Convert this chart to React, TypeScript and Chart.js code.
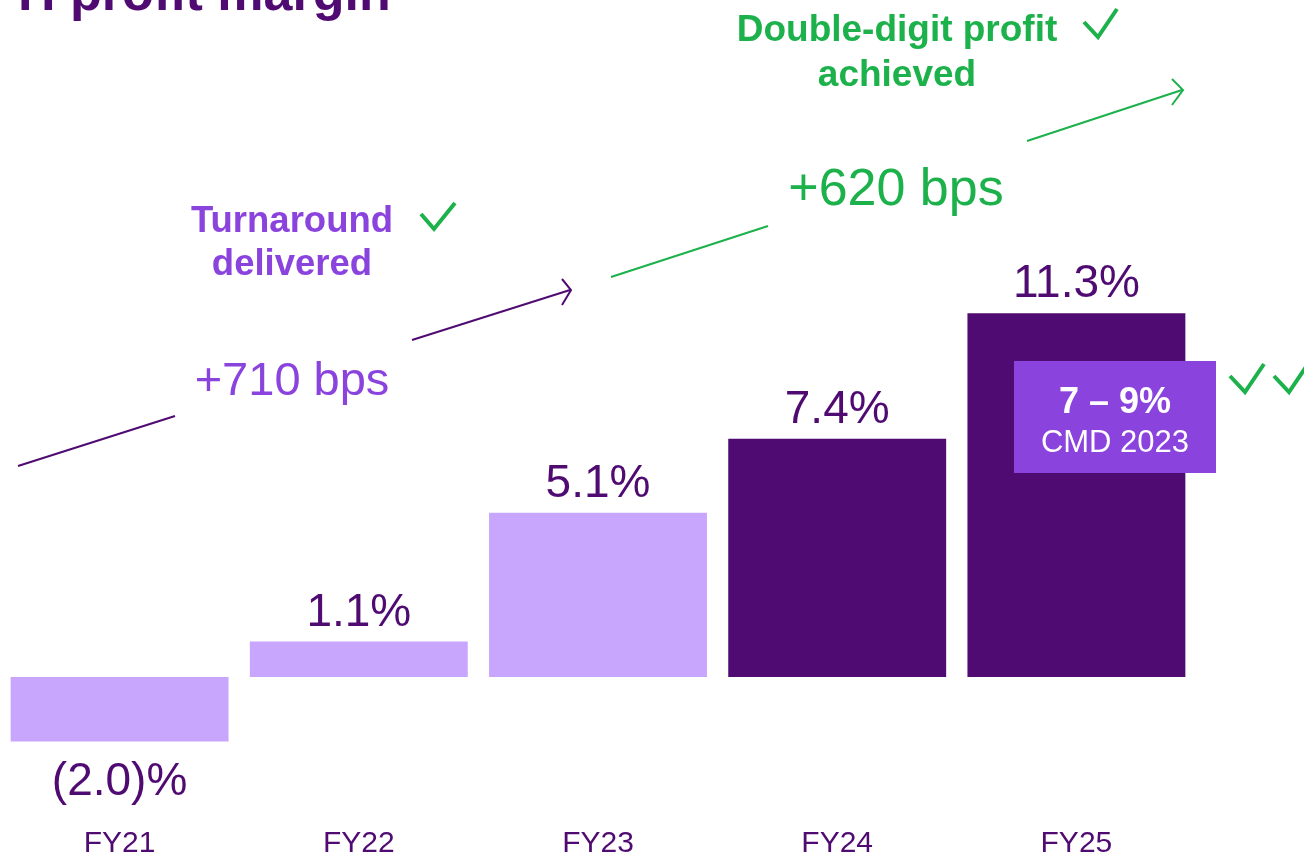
import React, { useEffect, useRef } from "react";
import { Chart, registerables } from "chart.js";

Chart.register(...registerables);

const categories = ["FY21", "FY22", "FY23", "FY24", "FY25"];
const margins = [-2.0, 1.1, 5.1, 7.4, 11.3];
const valueLabels = ["(2.0)%", "1.1%", "5.1%", "7.4%", "11.3%"];
const barShades = ["light", "light", "light", "dark", "dark"];

const DARK = "#4F0B71";
const LIGHT = "#C8A6FE";
const MID = "#8B43DE";
const GREEN = "#1DB14B";
const FONT = "'Liberation Sans', Arial, sans-serif";

function polyline(ctx: CanvasRenderingContext2D, pts: number[][], color: string, w: number) {
  ctx.save();
  ctx.strokeStyle = color;
  ctx.lineWidth = w;
  ctx.lineJoin = "miter";
  ctx.lineCap = "butt";
  ctx.beginPath();
  pts.forEach((p, i) => (i === 0 ? ctx.moveTo(p[0], p[1]) : ctx.lineTo(p[0], p[1])));
  ctx.stroke();
  ctx.restore();
}

function text(
  ctx: CanvasRenderingContext2D,
  s: string,
  x: number,
  y: number,
  font: string,
  color: string,
  align: CanvasTextAlign = "center"
) {
  ctx.save();
  ctx.font = font;
  ctx.fillStyle = color;
  ctx.textAlign = align;
  ctx.textBaseline = "alphabetic";
  ctx.fillText(s, x, y);
  ctx.restore();
}

const decorPlugin = {
  id: "decor",
  beforeDraw(chart: any) {
    const ctx = chart.ctx;
    ctx.save();
    ctx.fillStyle = "#ffffff";
    ctx.fillRect(0, 0, chart.width, chart.height);
    ctx.restore();
  },
  afterDatasetsDraw(chart: any) {
    const ctx = chart.ctx;
    const meta = chart.getDatasetMeta(0);
    const xScale = chart.scales.x;
    meta.data.forEach((bar: any, i: number) => {
      const v = margins[i];
      const y = v >= 0 ? bar.y - 16 : bar.y + 54;
      text(ctx, valueLabels[i], bar.x, y, `46px ${FONT}`, DARK);
      text(ctx, categories[i], xScale.getPixelForValue(i), 852, `30px ${FONT}`, DARK);
    });

    // title (cut off at top)
    text(ctx, "H profit margin", 18, 10, `bold 52px ${FONT}`, DARK, "left");

    // purple arrow
    polyline(ctx, [[18, 466], [175, 416]], DARK, 2);
    polyline(ctx, [[412, 340], [570, 290]], DARK, 2);
    polyline(ctx, [[562, 279], [571, 290], [562, 305]], DARK, 2);
    text(ctx, "+710 bps", 292, 395, `47px ${FONT}`, MID);
    text(ctx, "Turnaround", 292, 232, `bold 36.5px ${FONT}`, MID);
    text(ctx, "delivered", 292, 275, `bold 36.5px ${FONT}`, MID);
    polyline(ctx, [[421, 214], [434, 229], [455, 203]], GREEN, 4);

    // green arrow
    polyline(ctx, [[611, 277], [768, 226]], GREEN, 2);
    polyline(ctx, [[1027, 141], [1182, 90]], GREEN, 2);
    polyline(ctx, [[1172, 79], [1183, 90], [1172, 105]], GREEN, 2);
    text(ctx, "+620 bps", 896, 205, `52px ${FONT}`, GREEN);
    text(ctx, "Double-digit profit", 897, 41, `bold 37px ${FONT}`, GREEN);
    text(ctx, "achieved", 897, 86, `bold 37px ${FONT}`, GREEN);
    polyline(ctx, [[1084, 22], [1098, 37], [1117, 9]], GREEN, 4);

    // CMD box
    ctx.save();
    ctx.fillStyle = MID;
    ctx.fillRect(1014, 361, 202, 112);
    ctx.restore();
    text(ctx, "7 \u2013 9%", 1115, 413, `bold 36px ${FONT}`, "#ffffff");
    text(ctx, "CMD 2023", 1115, 452, `31px ${FONT}`, "#ffffff");
    polyline(ctx, [[1230, 376], [1245, 392], [1264, 364]], GREEN, 4);
    polyline(ctx, [[1274, 376], [1289, 392], [1308, 364]], GREEN, 4);
  },
};

export default function App() {
  const ref = useRef<HTMLCanvasElement>(null);
  useEffect(() => {
    if (!ref.current) return;
    const chart = new Chart(ref.current, {
      type: "bar",
      data: {
        labels: categories,
        datasets: [
          {
            data: margins,
            backgroundColor: barShades.map((s) => (s === "dark" ? DARK : LIGHT)),
            borderWidth: 0,
            categoryPercentage: 1,
            barPercentage: 0.911,
          },
        ],
      },
      options: {
        responsive: false,
        animation: false,
        events: [],
        layout: { padding: { left: 0, right: 108, top: 33, bottom: 50.2 } },
        plugins: { legend: { display: false }, tooltip: { enabled: false }, title: { display: false } },
        scales: {
          x: { display: false, offset: true, grid: { display: false } },
          y: { display: false, min: -4, max: 20, grid: { display: false } },
        },
      },
      plugins: [decorPlugin],
    });
    return () => chart.destroy();
  }, []);
  return (
    <div style={{ position: "absolute", left: 0, top: 0, width: 1304, height: 856, background: "#fff" }}>
      <canvas ref={ref} width={1304} height={856} style={{ display: "block", width: 1304, height: 856 }} />
    </div>
  );
}
